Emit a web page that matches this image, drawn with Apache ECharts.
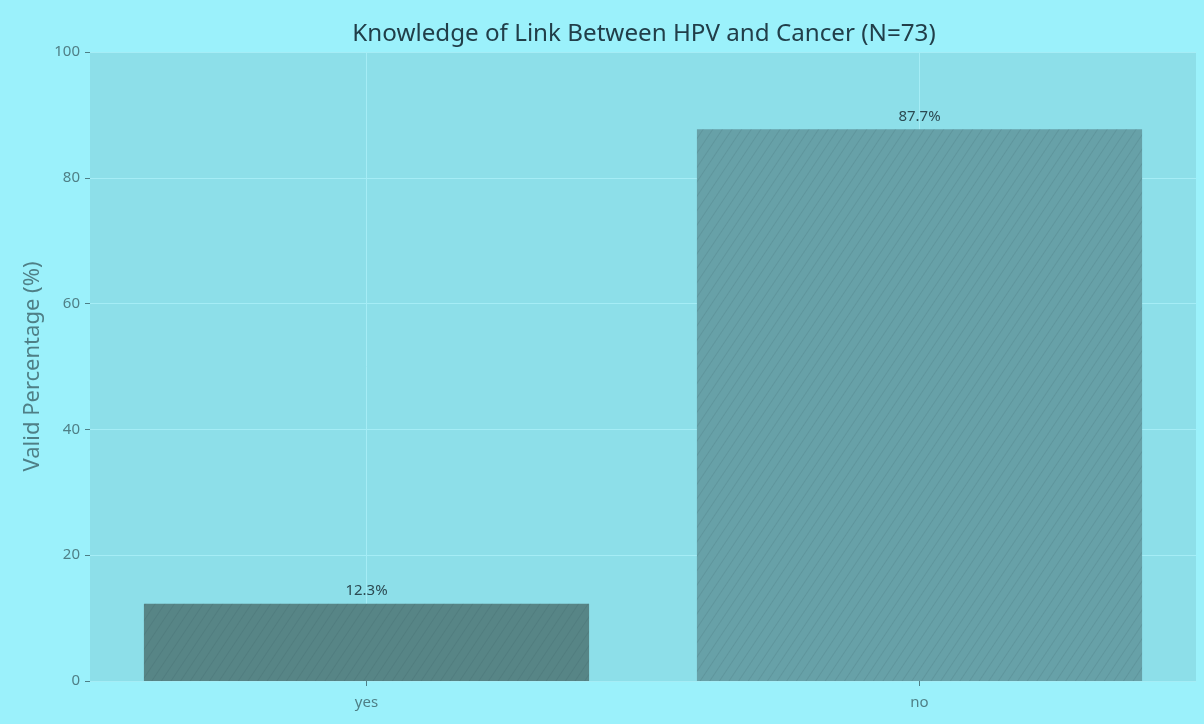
<!DOCTYPE html>
<html>
<head>
<meta charset="utf-8">
<script src="https://cdn.jsdelivr.net/npm/echarts@6/dist/echarts.min.js"></script>
<style>
html,body{margin:0;padding:0;background:#9bf1fb;}
#chart{width:1204px;height:724px;}
</style>
</head>
<body>
<div id="chart"></div>
<script>
const categories = ["yes", "no"];
const values = [12.3, 87.7];
const barColors = ["#578586", "#67a1a8"];
const yTicks = [0, 20, 40, 60, 80, 100];

const chart = echarts.init(document.getElementById('chart'), null, {renderer: 'canvas'});
const font = '"Noto Sans", "Open Sans", sans-serif';
const gridColor = '#a5edf6';
chart.setOption({
  backgroundColor: '#9bf1fb',
  animation: false,
  title: {
    text: 'Knowledge of Link Between HPV and Cancer (N=73)',
    left: 639, top: 17, textAlign: 'center',
    textStyle: {fontFamily: font, fontSize: 24.2, fontWeight: 'normal', color: '#213e49'}
  },
  grid: {left: 90, right: 8, top: 52, bottom: 43, backgroundColor: '#8ddfe9', show: true, borderWidth: 0},
  xAxis: {
    type: 'category', data: categories,
    axisLine: {show: false},
    axisTick: {show: true, alignWithLabel: true, length: 5, lineStyle: {color: '#4f7f86'}},
    axisLabel: {fontFamily: font, fontSize: 15, color: '#4f7f86', margin: 14},
    splitLine: {show: false}
  },
  yAxis: {
    type: 'value', min: yTicks[0], max: yTicks[yTicks.length - 1], interval: 20,
    name: 'Valid Percentage (%)', nameLocation: 'middle', nameGap: 45,
    nameTextStyle: {fontFamily: font, fontSize: 22, color: '#4f7f86'},
    axisLine: {show: false},
    axisTick: {show: true, length: 5, lineStyle: {color: '#4f7f86'}},
    axisLabel: {fontFamily: font, fontSize: 15, color: '#4f7f86', margin: 10},
    splitLine: {show: true, lineStyle: {color: gridColor, width: 1}}
  },
  series: [{
    type: 'line', data: [], z: 0, silent: true,
    markLine: {
      silent: true, symbol: 'none', animation: false, z: 0,
      label: {show: false},
      lineStyle: {color: gridColor, width: 1, type: 'solid'},
      data: categories.map(c => ({xAxis: c}))
    }
  }, {
    type: 'bar', z: 3,
    data: values.map((v, i) => ({value: v, itemStyle: {color: barColors[i],
      decal: {symbol: 'rect', color: 'rgba(35,70,75,0.13)', dashArrayX: [1, 0], dashArrayY: [1, 7], rotation: -Math.PI / 3.2}}})),
    barWidth: '80.5%',
    label: {
      show: true, position: 'top', distance: 5,
      formatter: p => p.value.toFixed(1) + '%',
      fontFamily: font, fontSize: 15, color: '#2c4a52'
    }
  }]
});
</script>
</body>
</html>
